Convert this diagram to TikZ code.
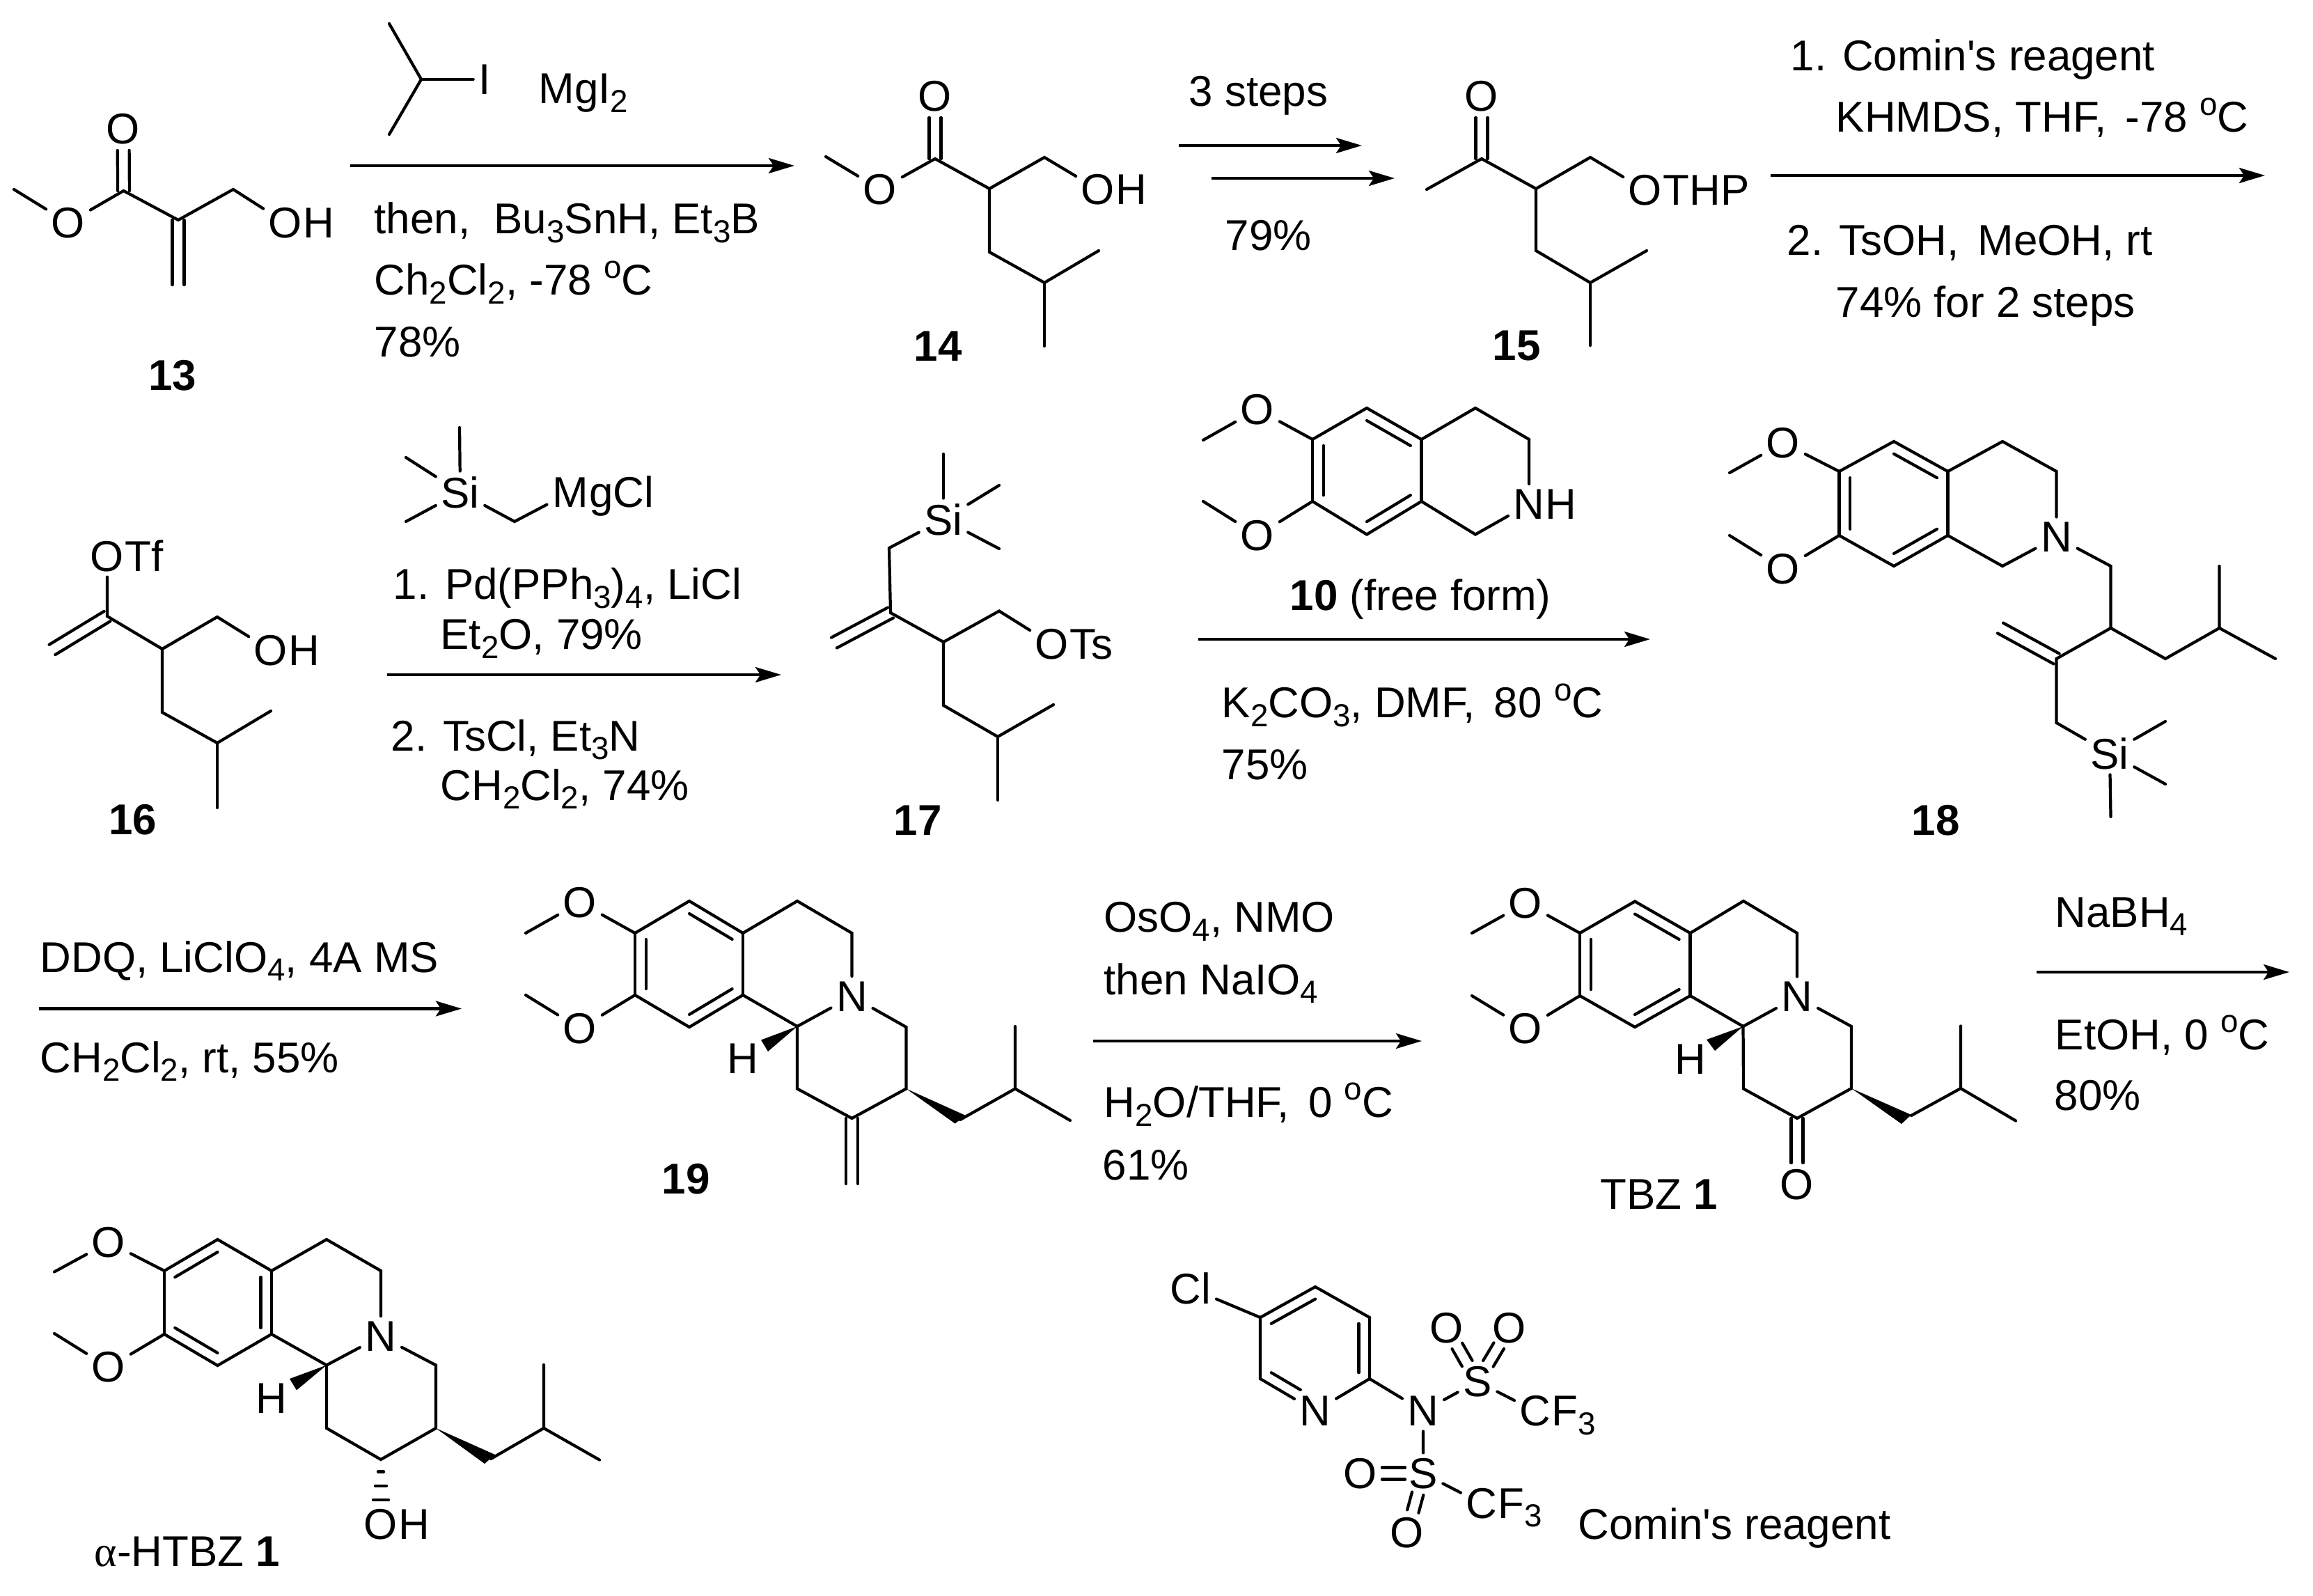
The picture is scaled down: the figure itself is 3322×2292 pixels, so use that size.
\documentclass[tikz,border=0pt]{standalone}
\usepackage{fontspec}
\setmainfont{Liberation Sans}[Ligatures=TeXOff]
\newfontfamily\serifalpha{Liberation Serif}
\usetikzlibrary{calc,arrows.meta}
\newcommand{\subn}[1]{\raisebox{-3.6pt}{\fontsize{13pt}{15pt}\selectfont #1}}
\newcommand{\degO}{\raisebox{7pt}{\fontsize{13pt}{15pt}\selectfont o}}
\newcommand{\pts}[1]{\foreach \n/\x/\y in {#1} {\coordinate (\n) at (\x,\y);}}
\newcommand{\ats}[1]{\foreach \n/\x/\y/\t in {#1} {\node[atom] (\n) at (\x,\y) {\t};}}
\newcommand{\dbl}[4]{\draw[bond,shorten <=#1,shorten >=#2] ($(#3)!2.4pt!90:(#4)$) -- ($(#4)!2.4pt!-90:(#3)$);
  \draw[bond,shorten <=#1,shorten >=#2] ($(#3)!2.4pt!-90:(#4)$) -- ($(#4)!2.4pt!90:(#3)$);}
\newcommand{\inr}[3]{\draw[bond] ($(#1)!0.2!(#3)$) -- ($(#2)!0.2!(#3)$);}
\newcommand{\tailt}[2]{\node[tailtxt] at (#1.base east) {#2};}
\newcommand{\rtext}[4]{\node[rtxt] (#1) at (#2,#3) {#4};}
\newcommand{\rxn}[4]{\coordinate (#1s) at (#2,#4); \coordinate (#1e) at (#3,#4); \draw[rxnarrow] (#1s) -- (#1e);}
\tikzset{
  bond/.style={line width=1.2pt,line cap=round,line join=miter},
  atom/.style={inner sep=2pt,font=\fontsize{17.6pt}{20pt}\selectfont},
  tailtxt/.style={anchor=base west,inner sep=0pt,xshift=-2pt,font=\fontsize{17.6pt}{20pt}\selectfont},
  rtxt/.style={anchor=base west,inner sep=0pt,font=\fontsize{17.6pt}{20pt}\selectfont},
  lab/.style={inner sep=0pt,font=\fontsize{17.6pt}{20pt}\selectfont\bfseries},
  rxnarrow/.style={line width=1.3pt,-{Stealth[length=10.5pt,width=6.2pt,inset=2pt]}},
  wedge/.style={fill=black,draw=none}
}
\begin{document}
\begin{tikzpicture}[x=0.01cm,y=-0.01cm]
\path[fill=white,use as bounding box] (0,0) rectangle (3322,2292);

% ---- 13
\pts{a1/20/272,a3/177.5/274,a5/256/316,a6/335/272,a8/256/409}
\ats{a2/98/320/O,a4/177/185/O,a7/410/320/O}
\tailt{a7}{H}
\draw[bond] (a1)--(a2)--(a3)--(a5)--(a6)--(a7);
\dbl{0pt}{8.8pt}{a3}{a4}
\dbl{0pt}{0pt}{a5}{a8}
\node[lab] (l13) at (248,539) {13};

% isopropyl iodide
\pts{i1/559/34,i2/605/114,i3/559/193}
\ats{i4/696/114/I}
\draw[bond] (i1)--(i2)--(i3);
\draw[bond] (i2)--(i4);
\rtext{t1}{773}{149}{MgI\subn{2}}
\rxn{r1}{503}{1141}{238}
\rtext{t2}{537}{336}{then,\ \ Bu\subn{3}SnH, Et\subn{3}B}
\rtext{t3}{537}{424}{Ch\subn{2}Cl\subn{2}, -78 \degO C}
\rtext{t4}{537}{513}{78\%}

% ---- 14
\pts{b1/1186/225,b3/1343/228,b5/1421/271,b6/1500/226,b8/1421/362,b9/1500/406,b10/1578/360,b11/1500/497}
\ats{b2/1264/272/O,b4/1343/138/O,b7/1577/272/O}
\tailt{b7}{H}
\draw[bond] (b1)--(b2)--(b3)--(b5)--(b6)--(b7);
\draw[bond] (b5)--(b8)--(b9)--(b10);
\draw[bond] (b9)--(b11);
\dbl{0pt}{8.8pt}{b3}{b4}
\node[lab] (l14) at (1347,497) {14};

\rxn{r2a}{1693}{1956}{209}
\rxn{r2b}{1740}{2003}{256}
\rtext{t5}{1707}{153}{3 steps}
\rtext{t6}{1759}{360}{79\%}

% ---- 15
\pts{c1/2049/272,c2/2128/228,c4/2206/271,c5/2284/226,c7/2206/360,c8/2284/406,c9/2365/360,c10/2284/496}
\ats{c3/2128/138/O,c6/2363/273/O}
\tailt{c6}{THP}
\draw[bond] (c1)--(c2)--(c4)--(c5)--(c6);
\draw[bond] (c4)--(c7)--(c8)--(c9);
\draw[bond] (c8)--(c10);
\dbl{0pt}{8.8pt}{c2}{c3}
\node[lab] (l15) at (2178,497) {15};

\rxn{r3}{2543}{3253}{252}
\rtext{t7}{2571}{102}{1. Comin's reagent}
\rtext{t8}{2636}{190}{KHMDS, THF, \,-78 \degO C}
\rtext{t9}{2566}{367}{2. TsOH,\ \,MeOH, rt}
\rtext{t10}{2636}{456}{74\% for 2 steps}

% ---- 16
\pts{d2/154/885,d3/75/933,d4/233/932,d5/312/886,d7/233/1023,d8/312/1067,d9/389/1021,d10/312/1160}
\ats{d1/154/799/O,d6/389/934/O}
\tailt{d1}{Tf}
\tailt{d6}{H}
\draw[bond] (d1)--(d2)--(d4)--(d5)--(d6);
\draw[bond] (d4)--(d7)--(d8)--(d9);
\draw[bond] (d8)--(d10);
\dbl{0pt}{0pt}{d2}{d3}
\node[lab] (l16) at (191,1177) {16};

% Grignard reagent
\pts{g1/660/614,g2/583/657,g3/583/749,g5/739/749}
\ats{g4/661/707/Si,g6/819/707/M}
\tailt{g6}{gCl}
\draw[bond] (g1)--(g4);
\draw[bond] (g2)--(g4);
\draw[bond] (g3)--(g4);
\draw[bond] (g4)--(g5)--(g6);
\rxn{r4}{556}{1122}{969}
\rtext{t11}{564}{861}{1. Pd(PPh\subn{3})\subn{4}, LiCl}
\rtext{t12}{632}{933}{Et\subn{2}O, 79\%}
\rtext{t13}{561}{1078}{2. TsCl, Et\subn{3}N}
\rtext{t14}{632}{1149}{CH\subn{2}Cl\subn{2}, 74\%}

% ---- 17
\pts{e1/1355/652,e2/1435/697,e3/1435/788,e5/1277/787,e6/1279/880,e7/1198/923,e8/1355/922,e9/1435/877.5,e11/1355/1013,e12/1433/1058,e13/1513/1012,e14/1433/1149}
\ats{e4/1355/746/Si,e10/1511/925/O}
\tailt{e10}{Ts}
\draw[bond] (e1)--(e4);
\draw[bond] (e2)--(e4);
\draw[bond] (e3)--(e4);
\draw[bond] (e4)--(e5)--(e6)--(e8)--(e9)--(e10);
\draw[bond] (e8)--(e11)--(e12)--(e13);
\draw[bond] (e12)--(e14);
\dbl{0pt}{0pt}{e6}{e7}
\node[lab] (l17) at (1318,1178) {17};

% ---- 10
\pts{f1/1728/632,f3/1885/631,f4/1963/586,f5/2041.5/631,f6/2119/586,f7/2196/631,f9/2041.5/720,f10/2119/767.5,f11/1963/767.5,f12/1885/720,f14/1728/720,fc/1963/676}
\ats{f2/1806/588/O,f8/2196/724/N,f13/1806/769/O}
\tailt{f8}{H}
\draw[bond] (f1)--(f2)--(f3)--(f4)--(f5)--(f6)--(f7)--(f8)--(f10)--(f9)--(f11)--(f12)--(f13)--(f14);
\draw[bond] (f12)--(f3);
\draw[bond] (f5)--(f9);
\inr{f4}{f5}{fc}
\inr{f9}{f11}{fc}
\inr{f12}{f3}{fc}
\rtext{t15}{1852}{877}{\textbf{10} (free form)}
\rxn{r5}{1721}{2370}{918}
\rtext{t16}{1754}{1031}{K\subn{2}CO\subn{3}, DMF, \,80 \degO C}
\rtext{t17}{1754}{1119}{75\%}

% ---- 18
\pts{h1/2484/679,h3/2641.5/677,h4/2720/634,h5/2797.5/677,h6/2876/634,h7/2953.5/677,h9/2876/813,h10/2797.5/769,h11/2720/813,h12/2641.5/769,h14/2484/769,hc/2720/723,h15/3031.5/813,h16/3031.5/902,h17/3110/946,h18/3187.5/902,h19/3187.5/813,h20/3268/946,h21/2953.5/946,h22/2873/902,h23/2953.5/1038,h25/3110/1036,h26/3110/1126,h27/3031.5/1173}
\ats{h2/2561/636/O,h8/2953.5/771.5/N,h13/2561/817/O,h24/3030/1082/Si}
\draw[bond] (h1)--(h2)--(h3)--(h4)--(h5)--(h6)--(h7)--(h8)--(h9)--(h10)--(h11)--(h12)--(h13)--(h14);
\draw[bond] (h12)--(h3);
\draw[bond] (h5)--(h10);
\inr{h4}{h5}{hc}
\inr{h10}{h11}{hc}
\inr{h12}{h3}{hc}
\draw[bond] (h8)--(h15)--(h16)--(h17)--(h18)--(h19);
\draw[bond] (h18)--(h20);
\draw[bond] (h16)--(h21)--(h23)--(h24);
\dbl{0pt}{0pt}{h21}{h22}
\draw[bond] (h24)--(h25);
\draw[bond] (h24)--(h26);
\draw[bond] (h24)--(h27);
\node[lab] (l18) at (2780,1178) {18};

% ---- row 3 first arrow
\rxn{r6}{56}{663}{1448.5}
\rtext{t18}{57}{1396}{DDQ, LiClO\subn{4}, 4A MS}
\rtext{t19}{57}{1540}{CH\subn{2}Cl\subn{2}, rt, 55\%}

% ---- 19
\pts{j1/755/1340,j3/912/1340,j4/990/1294,j5/1067/1340,j6/1145/1294,j7/1223.5/1340,j9/1067/1429,j10/990/1475,j11/912/1429,j13/755/1429,jc/990/1384.5,j14/1145/1474,j15/1145/1563.5,j16/1223.5/1606,j17/1301.5/1563.5,j18/1301.5/1475,j19/1379/1608,j20/1458/1563.5,j21/1458/1474,j22/1537/1609,j23/1223.5/1700,j24/1387/1602,j25/1371.6/1613.5,j26/1093/1493.5,j27/1103/1510}
\ats{j2/833/1296/O,j8/1223.5/1431/N,j12/833/1477/O,j28/1067/1520.6/H}
\draw[bond] (j1)--(j2)--(j3)--(j4)--(j5)--(j6)--(j7)--(j8)--(j14)--(j9)--(j10)--(j11)--(j12)--(j13);
\draw[bond] (j11)--(j3);
\draw[bond] (j5)--(j9);
\draw[bond] (j14)--(j15)--(j16)--(j17)--(j18)--(j8);
\inr{j4}{j5}{jc}
\inr{j9}{j10}{jc}
\inr{j11}{j3}{jc}
\dbl{0pt}{0pt}{j16}{j23}
\fill[wedge] (j17)--(j24)--(j25)--cycle;
\fill[wedge] (j14)--(j26)--(j27)--cycle;
\draw[bond] (j19)--(j20)--(j21);
\draw[bond] (j20)--(j22);
\node[lab] (l19) at (985,1693) {19};

\rxn{r7}{1570}{2042}{1495}
\rtext{t20}{1585}{1338.5}{OsO\subn{4}, NMO}
\rtext{t21}{1585}{1428}{then NaIO\subn{4}}
\rtext{t22}{1585}{1604.5}{H\subn{2}O/THF, \,0 \degO C}
\rtext{t23}{1583}{1694}{61\%}

% ---- TBZ
\pts{k1/2114/1340,k3/2269/1340,k4/2348/1294.5,k5/2427.5/1340,k6/2504/1294,k7/2581/1340,k9/2427.5/1430,k10/2348/1475,k11/2269/1430,k13/2114/1430,kc/2348/1385,k14/2503.5/1474,k15/2659/1474,k16/2504/1563.5,k17/2581/1606,k18/2659/1563,k20/2745/1602,k21/2816/1563,k22/2816/1473.5,k23/2895/1609.5,k24/2745/1601,k25/2731/1614,k26/2451/1493,k27/2463/1509}
\ats{k2/2191/1297/O,k8/2581/1431.5/N,k12/2191/1477/O,k19/2581/1701/O,k28/2427.5/1521/H}
\draw[bond] (k1)--(k2)--(k3)--(k4)--(k5)--(k6)--(k7)--(k8)--(k14)--(k9)--(k10)--(k11)--(k12)--(k13);
\draw[bond] (k11)--(k3);
\draw[bond] (k5)--(k9);
\draw[bond] (k14)--(k16)--(k17)--(k18)--(k15)--(k8);
\inr{k4}{k5}{kc}
\inr{k9}{k10}{kc}
\inr{k11}{k3}{kc}
\dbl{0pt}{8.8pt}{k17}{k19}
\fill[wedge] (k18)--(k24)--(k25)--cycle;
\fill[wedge] (k14)--(k26)--(k27)--cycle;
\draw[bond] (k20)--(k21)--(k22);
\draw[bond] (k21)--(k23);
\rtext{t24}{2298}{1736}{TBZ \textbf{1}}

\rxn{r8}{2925}{3288}{1396}
\rtext{t25}{2951}{1331}{NaBH\subn{4}}
\rtext{t26}{2951}{1507}{EtOH, 0 \degO C}
\rtext{t27}{2950}{1594}{80\%}

% ---- alpha-HTBZ
\pts{m1/78/1826.5,m3/236/1825,m4/312.5/1780,m5/390/1825,m6/469/1780,m7/547/1825,m9/390/1916,m10/312.5/1961,m11/236/1916,m13/78/1915,mc/312.5/1870.5,m14/469/1960.5,m15/626/1960.5,m16/469/2051,m17/547/2096,m18/626/2051,m20/705/2095,m21/781/2051,m22/781/1960,m23/861/2096.5,m24/711/2089,m25/696/2102,m26/416/1980,m27/426/1996.4,h1l/543/2113.5,h1r/551/2113.5,h2l/539/2134,h2r/555/2134,h3l/536/2154,h3r/558/2154}
\ats{m2/156/1784/O,m8/547/1919/N,m12/156/1963.6/O,m19/547/2189/O,m28/390/2008/H}
\tailt{m19}{H}
\draw[bond] (m1)--(m2)--(m3)--(m4)--(m5)--(m6)--(m7)--(m8)--(m14)--(m9)--(m10)--(m11)--(m12)--(m13);
\draw[bond] (m11)--(m3);
\draw[bond] (m5)--(m9);
\draw[bond] (m14)--(m16)--(m17)--(m18)--(m15)--(m8);
\inr{m3}{m4}{mc}
\inr{m5}{m9}{mc}
\inr{m10}{m11}{mc}
\fill[wedge] (m18)--(m24)--(m25)--cycle;
\fill[wedge] (m14)--(m26)--(m27)--cycle;
\draw[bond] (m20)--(m21)--(m22);
\draw[bond] (m21)--(m23);
\draw[bond] (h1l)--(h1r);
\draw[bond] (h2l)--(h2r);
\draw[bond] (h3l)--(h3r);
\rtext{t28}{135}{2249}{{\serifalpha α}-HTBZ \textbf{1}}

% ---- Comins reagent
\pts{n2/1810/1892,n3/1889/1848,n4/1967/1892,n5/1967/1980,n7/1810/1980,nc/1889/1936}
\ats{n1/1710/1850/Cl,n6/1889/2026.5/N,n8/2044/2026.5/N,n9/2122/1984/S,n10/2078/1907/O,n11/2168/1907/O,n12/2205/2026.5/C,n13/2044/2116/S,n14/1954/2116/O,n15/2021/2201/O,n16/2128/2159/C}
\tailt{n12}{F\subn{3}}
\tailt{n16}{F\subn{3}}
\draw[bond] (n1)--(n2)--(n3)--(n4)--(n5)--(n6)--(n7)--(n2);
\inr{n2}{n3}{nc}
\inr{n4}{n5}{nc}
\draw[bond,shorten >=7pt] ($(n7)!0.2!(nc)$) -- ($(n6)!0.2!(nc)$);
\draw[bond] (n5)--(n8)--(n9)--(n12);
\draw[bond] (n8)--(n13)--(n16);
\dbl{8.5pt}{8.5pt}{n9}{n10}
\dbl{8.5pt}{8.5pt}{n9}{n11}
\dbl{7.4pt}{8.8pt}{n13}{n14}
\dbl{8.5pt}{9pt}{n13}{n15}
\rtext{t29}{2266}{2210}{Comin's reagent}
\end{tikzpicture}
\end{document}
